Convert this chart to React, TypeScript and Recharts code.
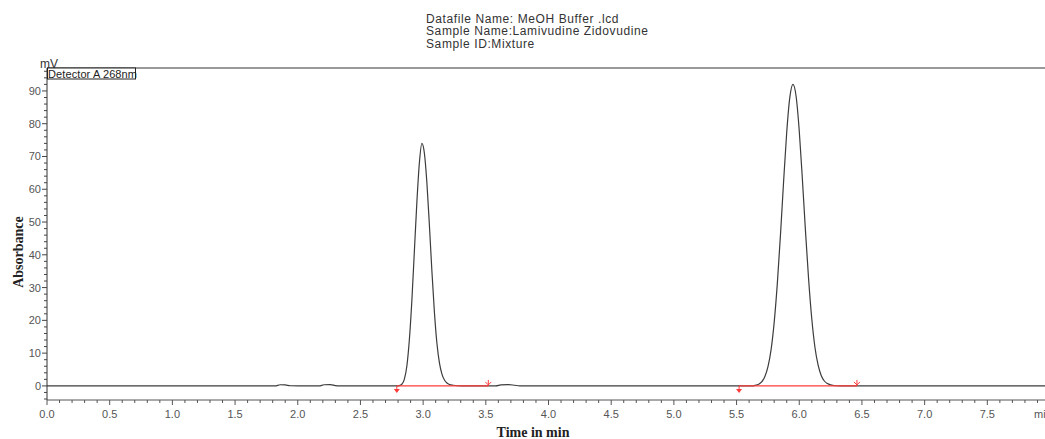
import { ComposedChart, Line, XAxis, YAxis, ReferenceLine, ReferenceDot } from 'recharts';

// chromatogram trace (time in min, signal in mV)
const traceTime = [
  0, 1.82, 1.86, 1.9, 1.94, 2.17, 2.21, 2.26, 2.3, 2.33,
  2.79, 2.81, 2.83, 2.85, 2.87, 2.89, 2.91, 2.93, 2.95, 2.97, 2.99,
  3.01, 3.03, 3.05, 3.07, 3.09, 3.11, 3.13, 3.15, 3.17, 3.19, 3.21, 3.24, 3.27, 3.31,
  3.58, 3.62, 3.68, 3.73, 3.77,
  5.62, 5.65, 5.675, 5.7, 5.725, 5.75, 5.775, 5.8, 5.825, 5.85, 5.875, 5.9, 5.925, 5.95,
  5.975, 6.0, 6.025, 6.05, 6.075, 6.1, 6.125, 6.15, 6.175, 6.2, 6.225, 6.25, 6.29, 6.33,
  7.96,
];
const traceSignal = [
  0, 0, 0.35, 0.3, 0.05, 0, 0.35, 0.4, 0.1, 0,
  0, 0.1, 0.5, 2, 6, 14, 26, 41, 56, 68, 74,
  71, 62, 49, 35, 22.5, 13, 7, 3.6, 1.8, 0.9, 0.45, 0.2, 0.05, 0,
  0, 0.3, 0.4, 0.2, 0,
  0, 0.2, 0.5, 1.2, 2.8, 5.8, 11, 19.4, 31.2, 46, 62.3, 77.4, 88.1, 92,
  88.3, 77.8, 63, 47, 32.3, 20.4, 11.8, 6.4, 3.2, 1.5, 0.7, 0.3, 0.05, 0,
  0,
];

// integration baseline events
const peakStarts = [2.79, 5.52];
const peakEnds = [3.52, 6.46];

const xMajorTicks = [0, 0.5, 1, 1.5, 2, 2.5, 3, 3.5, 4, 4.5, 5, 5.5, 6, 6.5, 7, 7.5];
const yMajorTicks = [0, 10, 20, 30, 40, 50, 60, 70, 80, 90];
const xMinorTicks = Array.from({ length: 80 }, (_, i) => i / 10);
const yMinorTicks = Array.from({ length: 51 }, (_, i) => -4 + i * 2);

const headerLines = ['Datafile Name: MeOH Buffer .lcd', 'Sample Name:Lamivudine Zidovudine', 'Sample ID:Mixture'];

const X_MAX = 7.96;
const Y_MIN = -4.3;
const Y_MAX = 97;

const RED = '#ff3b3b';
const TRACE = '#3c3c3c';
const sans = '"Liberation Sans", Arial, sans-serif';
const serif = '"Liberation Serif", "Times New Roman", serif';

const trace = traceTime.map((t, i) => ({ t, v: traceSignal[i] }));

function XTick({ x, y, payload }: any) {
  const v = payload.value;
  const major = xMajorTicks.some((m) => Math.abs(m - v) < 1e-6);
  return (
    <g>
      <line x1={x} x2={x} y1={y} y2={y + (major ? 5 : 3)} stroke="#555" strokeWidth={1} />
      {major && (
        <text x={x} y={y + 18} textAnchor="middle" fontSize={11} fontFamily={sans} fill="#555">
          {v.toFixed(1)}
        </text>
      )}
    </g>
  );
}

function YTick({ x, y, payload }: any) {
  const v = payload.value;
  const major = yMajorTicks.includes(v);
  return (
    <g>
      <line x1={x - (major ? 5 : 3)} x2={x} y1={y} y2={y} stroke="#444" strokeWidth={1} />
      {major && (
        <text x={x - 6} y={y + 4} textAnchor="end" fontSize={11} fontFamily={sans} fill="#555">
          {v}
        </text>
      )}
    </g>
  );
}

function StartMark({ cx, cy }: any) {
  return (
    <g>
      <line x1={cx} x2={cx} y1={cy} y2={cy + 5} stroke={RED} strokeWidth={1} />
      <path d={`M${cx - 3},${cy + 3} L${cx + 3},${cy + 3} L${cx},${cy + 7} Z`} fill={RED} />
    </g>
  );
}

function EndMark({ cx, cy }: any) {
  return (
    <g>
      <line x1={cx} x2={cx} y1={cy - 6} y2={cy} stroke={RED} strokeWidth={1} />
      <path d={`M${cx - 3},${cy - 4} L${cx},${cy - 1} L${cx + 3},${cy - 4}`} fill="none" stroke={RED} strokeWidth={1} />
    </g>
  );
}

export default function App() {
  return (
    <div style={{ position: 'absolute', left: 0, top: 0, width: 1045, height: 439, background: '#fff', overflow: 'hidden' }}>
      <ComposedChart width={1045} height={439} data={trace} margin={{ top: 68, right: 0, left: 0, bottom: 0 }}>
        <XAxis
          dataKey="t"
          type="number"
          domain={[0, X_MAX]}
          ticks={xMinorTicks}
          interval={0}
          tickSize={0}
          tickMargin={0}
          tickLine={false}
          height={39}
          axisLine={{ stroke: '#555' }}
          tick={<XTick />}
        />
        <YAxis
          type="number"
          domain={[Y_MIN, Y_MAX]}
          ticks={yMinorTicks}
          interval={0}
          tickSize={0}
          tickMargin={0}
          tickLine={false}
          width={47}
          axisLine={{ stroke: '#333' }}
          tick={<YTick />}
        />
        <ReferenceLine y={Y_MAX} stroke="#333" strokeWidth={1} />
        <Line
          dataKey="v"
          type="monotone"
          stroke={TRACE}
          strokeWidth={1.2}
          dot={false}
          activeDot={false}
          isAnimationActive={false}
        />
        {peakStarts.map((s, i) => (
          <ReferenceLine
            key={`b${i}`}
            segment={[{ x: s, y: 0 }, { x: peakEnds[i], y: 0 }]}
            stroke={RED}
            strokeWidth={1.2}
          />
        ))}
        {peakStarts.map((s, i) => (
          <ReferenceDot key={`s${i}`} x={s} y={0} shape={<StartMark />} />
        ))}
        {peakEnds.map((e, i) => (
          <ReferenceDot key={`e${i}`} x={e} y={0} shape={<EndMark />} />
        ))}
      </ComposedChart>
      <svg width={1045} height={439} style={{ position: 'absolute', left: 0, top: 0, pointerEvents: 'none' }}>
        {headerLines.map((line, i) => (
          <text key={line} x={426} y={22.5 + i * 12.5} fontSize={12} letterSpacing={0.6} fontFamily={sans} fill="#333">
            {line}
          </text>
        ))}
        <text x={40} y={68} fontSize={12} fontFamily={sans} fill="#333">mV</text>
        <rect x={47.5} y={68} width={88} height={11} fill="#fff" stroke="#222" strokeWidth={1} />
        <text x={48} y={78} fontSize={11} letterSpacing={0.1} fontFamily={sans} fill="#222">Detector A 268nm</text>
        <text x={1034} y={418} fontSize={11} fontFamily={sans} fill="#555">min</text>
        <text
          x={23}
          y={252}
          transform="rotate(-90 23 252)"
          textAnchor="middle"
          fontSize={14}
          fontWeight="bold"
          fontFamily={serif}
          fill="#222"
        >
          Absorbance
        </text>
        <text x={533} y={437} textAnchor="middle" fontSize={14} fontWeight="bold" fontFamily={serif} fill="#222">
          Time in min
        </text>
      </svg>
    </div>
  );
}
